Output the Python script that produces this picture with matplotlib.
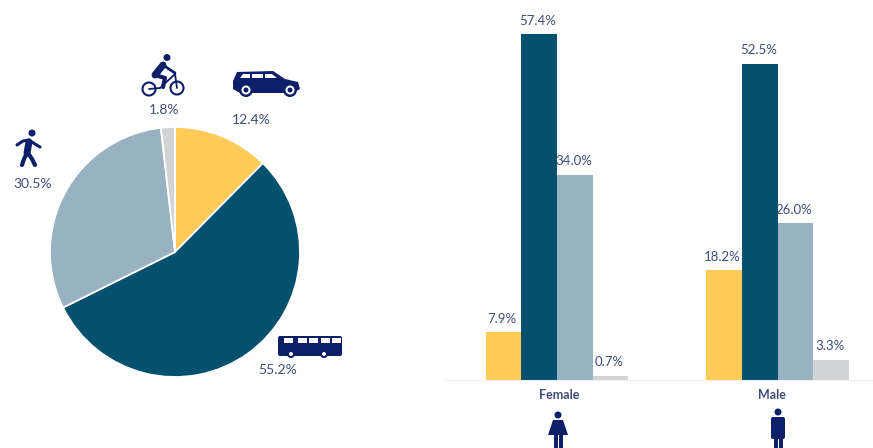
import matplotlib
matplotlib.use("Agg")
import matplotlib.pyplot as plt
from matplotlib.patches import Polygon, Circle, Rectangle, FancyBboxPatch

plt.rcParams['font.family'] = ['Lato', 'DejaVu Sans']

# pie shares, clockwise from the top
modes = ["Car", "Bus", "Walk", "Bicycle"]
pie_values = [12.4, 55.2, 30.5, 1.8]
pie_labels = ["12.4%", "55.2%", "30.5%", "1.8%"]

# bars per gender, same mode order
genders = ["Female", "Male"]
female_values = [7.9, 57.4, 34.0, 0.7]
male_values = [18.2, 52.5, 26.0, 3.3]

colors = ["#fecb57", "#04506f", "#98b2c1", "#d2d3d5"]
TEXT = "#3f4d78"
NAVY = "#0c1f68"
W, H = 873, 448

fig = plt.figure(figsize=(W / 100, H / 100), dpi=100)


def box(x0, y0, x1, y1):
    # pixel box (y down) to figure fractions
    return [x0 / W, 1 - y1 / H, (x1 - x0) / W, (y1 - y0) / H]


# PIE =====================================================
ax_pie = fig.add_axes(box(50, 127, 300, 377))
ax_pie.pie(pie_values, colors=colors, startangle=90, counterclock=False,
           wedgeprops={"edgecolor": "white", "linewidth": 1.3})
ax_pie.set_xlim(-1, 1)
ax_pie.set_ylim(-1, 1)

# BARS ====================================================
BAR_PX = 35.6
ax_bar = fig.add_axes(box(445, 0, 873, 380))
ax_bar.set_xlim(-112 / BAR_PX, 316 / BAR_PX)
ax_bar.set_ylim(0, 380 / 6.02)
centers = [0, 220.5 / BAR_PX]
for center, vals in zip(centers, [female_values, male_values]):
    for i, v in enumerate(vals):
        x = center + (i - 1.5)
        ax_bar.bar(x, v, width=1.0, color=colors[i], linewidth=0)
        ax_bar.annotate("%.1f%%" % v, (x, v), xytext=(-1, 10), textcoords="offset points",
                        ha="center", va="center", fontsize=9.5, color=TEXT)
for s in ["top", "left", "right"]:
    ax_bar.spines[s].set_visible(False)
ax_bar.spines["bottom"].set_color("#f0f0f0")
ax_bar.set_yticks([])
ax_bar.set_xticks([])

# TEXT AND ICONS, pixel coordinates =======================
ov = fig.add_axes([0, 0, 1, 1])
ov.set_xlim(0, W)
ov.set_ylim(H, 0)
ov.axis("off")

for label, (x, y) in zip(pie_labels, [(251, 120), (278, 370), (33, 184), (164, 110)]):
    ov.text(x, y, label, ha="center", va="center", fontsize=10, color=TEXT)
for label, x in zip(genders, [559, 772]):
    ov.text(x, 395, label, ha="center", va="center", fontsize=9, color=TEXT, fontweight="bold")


def poly(pts, c=NAVY):
    ov.add_patch(Polygon(pts, closed=True, facecolor=c, edgecolor="none"))


def circ(x, y, r, c=NAVY):
    ov.add_patch(Circle((x, y), r, facecolor=c, edgecolor="none"))


def line(xs, ys, lw=3):
    ov.plot(xs, ys, color=NAVY, lw=lw, solid_capstyle="round", solid_joinstyle="round")


def ring(x, y, r, lw=1.5):
    ov.add_patch(Circle((x, y), r, facecolor="none", edgecolor=NAVY, lw=lw))


# car
poly([(233, 81), (237, 72), (273, 71), (285, 79), (298, 82), (300, 89), (293, 93), (240, 93), (233, 89)])
poly([(240, 78), (243, 74), (250, 74), (250, 78)], "white")
poly([(252, 74), (263, 74), (263, 78), (252, 78)], "white")
poly([(265, 74), (272, 74), (277, 78), (265, 78)], "white")
for cx in [246, 290]:
    circ(cx, 90, 7)
    circ(cx, 90, 4.5, "white")
    circ(cx, 90, 2.5)

# cyclist
circ(167, 57.5, 3.5)
ring(149, 89, 6.5)
ring(177, 88, 6.5)
line([163, 155], [65, 75], lw=5)
line([163, 175], [65, 73], lw=2)
line([155, 165, 163], [75, 78, 87], lw=3)
line([149, 160, 175, 177], [89, 88, 74, 88], lw=1.3)

# walker
circ(32, 133, 3.5)
line([29, 27], [142, 153], lw=5)
line([17, 23, 29, 35, 40], [145, 141, 140, 144, 147], lw=2.2)
line([27, 24, 22], [153, 159, 165], lw=3)
line([28, 32, 35], [153, 159, 165], lw=3)

# bus
ov.add_patch(FancyBboxPatch((278, 336), 64, 20, boxstyle="round,pad=0,rounding_size=2",
                            facecolor=NAVY, edgecolor="none"))
for wx in [284, 298, 309, 321, 332]:
    ov.add_patch(Rectangle((wx, 338.5), 9, 5, facecolor="white", edgecolor="none"))
for cx in [291, 324]:
    circ(cx, 354, 4)
    circ(cx, 354, 2, "white")

# female
circ(558, 415, 3.5)
poly([(553, 420), (563, 420), (568, 435), (548, 435)])
ov.add_patch(Rectangle((554, 435), 4, 13, facecolor=NAVY, edgecolor="none"))
ov.add_patch(Rectangle((559, 435), 4, 13, facecolor=NAVY, edgecolor="none"))

# male
circ(778, 412, 3.5)
ov.add_patch(FancyBboxPatch((771, 417), 14, 22, boxstyle="round,pad=0,rounding_size=2",
                            facecolor=NAVY, edgecolor="none"))
ov.add_patch(Rectangle((773.5, 435), 4, 13, facecolor=NAVY, edgecolor="none"))
ov.add_patch(Rectangle((778.5, 435), 4, 13, facecolor=NAVY, edgecolor="none"))

fig.savefig("out.png", dpi=100)
